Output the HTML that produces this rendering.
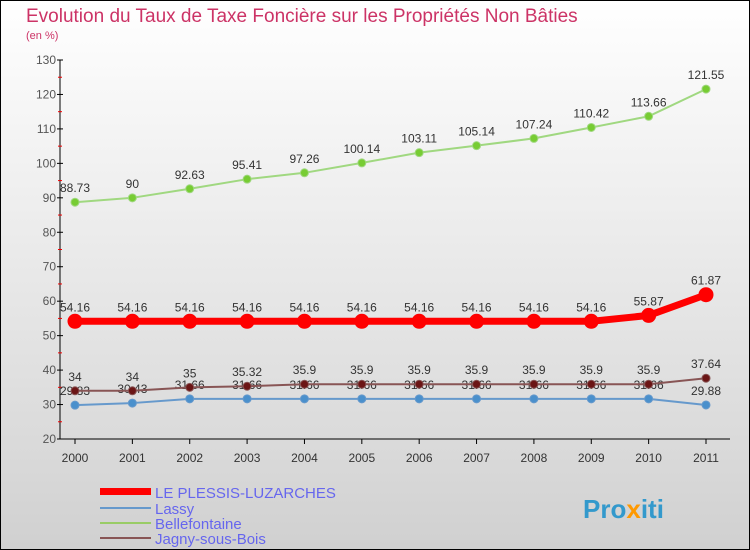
<!DOCTYPE html>
<html><head><meta charset="utf-8"><style>
body{margin:0;width:750px;height:550px;overflow:hidden;font-family:"Liberation Sans",sans-serif}
svg{display:block}
</style></head><body>
<svg id="c" width="750" height="550" xmlns="http://www.w3.org/2000/svg">
<defs><linearGradient id="bg" x1="0" y1="0" x2="0" y2="1">
<stop offset="0" stop-color="#ffffff"/><stop offset="0.85" stop-color="#d8d8d8"/><stop offset="1" stop-color="#d0d0d0"/></linearGradient></defs>
<rect x="0.5" y="0.5" width="749" height="549" fill="url(#bg)" stroke="#000"/>
<text x="26" y="22" font-size="19" fill="#cc3366">Evolution du Taux de Taxe Foncière sur les Propriétés Non Bâties</text>
<text x="26" y="39" font-size="11" fill="#cc3366">(en %)</text>
<g id="axes"></g><g id="series"></g>
<g>
<rect x="100" y="488" width="51" height="7" fill="#f00"/>
<text x="155" y="498" font-size="15" fill="#6666ee">LE PLESSIS-LUZARCHES</text>
<line x1="100" y1="508" x2="151" y2="508" stroke="#6699cc" stroke-width="2"/>
<text x="155" y="514" font-size="15" fill="#6666ee">Lassy</text>
<line x1="100" y1="523" x2="151" y2="523" stroke="#99cc66" stroke-width="2"/>
<text x="155" y="529" font-size="15" fill="#6666ee">Bellefontaine</text>
<line x1="100" y1="538" x2="151" y2="538" stroke="#885555" stroke-width="2"/>
<text x="155" y="544" font-size="15" fill="#6666ee">Jagny-sous-Bois</text>
</g>
<text x="583" y="518" font-size="26" font-weight="bold" fill="#3399cc">Pro<tspan fill="#ff9900">x</tspan>iti</text>
</svg>
<script>
const years=["2000","2001","2002","2003","2004","2005","2006","2007","2008","2009","2010","2011"];
const yTicks=[20,30,40,50,60,70,80,90,100,110,120,130];
const plessis=[54.16,54.16,54.16,54.16,54.16,54.16,54.16,54.16,54.16,54.16,55.87,61.87];
const lassy=[29.83,30.43,31.66,31.66,31.66,31.66,31.66,31.66,31.66,31.66,31.66,29.88];
const belle=[88.73,90,92.63,95.41,97.26,100.14,103.11,105.14,107.24,110.42,113.66,121.55];
const jagny=[34,34,35,35.32,35.9,35.9,35.9,35.9,35.9,35.9,35.9,37.64];
const NS="http://www.w3.org/2000/svg";
const X=i=>75+i*(706-75)/(years.length-1);
const Y=v=>439-(v-20)*(439-60)/110;
function mk(t,a,p){const e=document.createElementNS(NS,t);for(const k in a)e.setAttribute(k,a[k]);p.appendChild(e);return e;}
const ax=document.getElementById('axes');
const yl=mk('line',{x1:60,y1:60,x2:60,y2:439,stroke:'#000'},ax);


yTicks.forEach(t=>{
 mk('line',{x1:57,y1:Y(t),x2:63,y2:Y(t),stroke:'#000'},ax);
 if(t<130)mk('line',{x1:58,y1:Y(t+5),x2:62,y2:Y(t+5),stroke:'#e00'},ax);
 const tx=mk('text',{x:56,y:Y(t)+4,'text-anchor':'end','font-size':12,fill:'#555'},ax);tx.textContent=t;
 
 
});
const xl=mk('line',{x1:60,y1:439,x2:730,y2:439,stroke:'#000'},ax);


years.forEach((y,i)=>{
 mk('line',{x1:X(i),y1:439,x2:X(i),y2:444,stroke:'#000'},ax);
 const tx=mk('text',{x:X(i),y:462,'text-anchor':'middle','font-size':12,fill:'#333'},ax);tx.textContent=y;
 
 
});
const sg=document.getElementById('series');
function series(d,name,col,dot,w,r){
 const g=mk('g',{},sg);
 
 
 mk('polyline',{points:d.map((v,i)=>X(i)+','+Y(v)).join(' '),fill:'none',stroke:col,'stroke-width':w,'stroke-linejoin':'round'},g);
 d.forEach((v,i)=>{
  const c=mk('circle',{cx:X(i),cy:Y(v),r:r,fill:dot,stroke:col,'stroke-width':1},g);
  
  
  const t=mk('text',{x:X(i),y:Y(v)-10,'text-anchor':'middle','font-size':12,fill:'#333'},g);t.textContent=v;
  
  
 });
}
series(lassy,'lassy-series','#6699cc','#4a90cc',2,4);
series(belle,'bellefontaine-series','#a0d880','#77cc33',2,4);
series(jagny,'jagny-series','#885555','#6b1515',2,4);
series(plessis,'plessis-series','#ff0000','#ff0000',7,7);
</script>
</body></html>
